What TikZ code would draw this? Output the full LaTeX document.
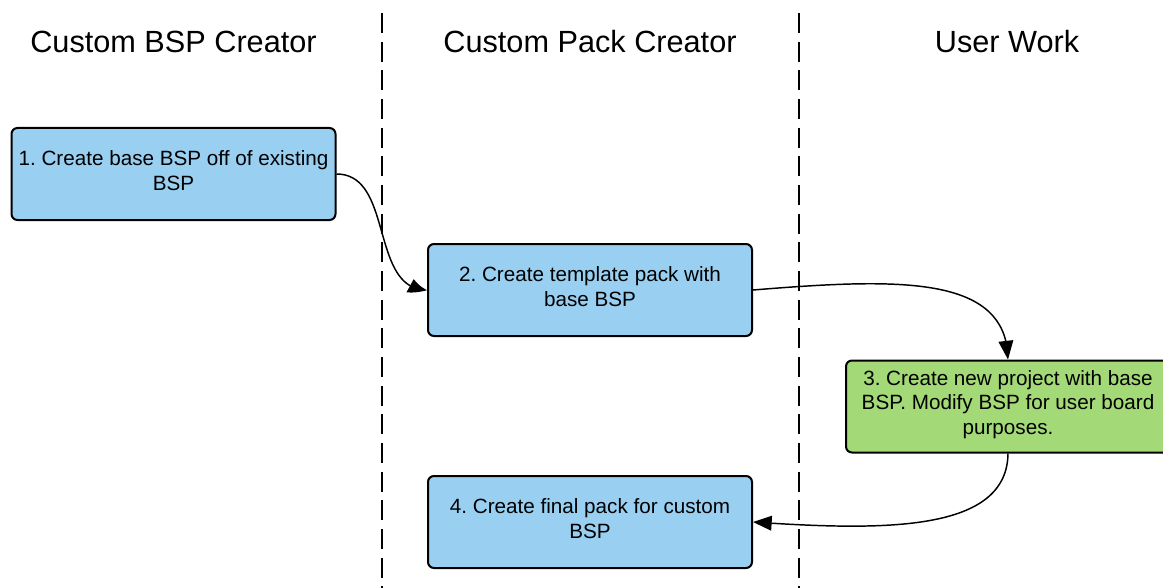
\documentclass[tikz,border=0pt]{standalone}
\usepackage{fontspec}
\setmainfont{Liberation Sans}
\usetikzlibrary{arrows.meta,calc,bending}
\definecolor{boxblue}{RGB}{153,208,242}
\definecolor{boxgreen}{RGB}{163,217,119}
\frenchspacing
\begin{document}
\begin{tikzpicture}[x=0.75pt,y=-0.75pt,
  stepbox/.style={draw=black, line width=1.5pt, rounded corners=4.5pt,
    minimum width=243pt, minimum height=69pt, inner sep=0pt},
  bluebox/.style={stepbox, fill=boxblue},
  greenbox/.style={stepbox, fill=boxgreen},
  steptext/.style={align=center, inner sep=0pt, font=\fontsize{15.5}{18.5}\selectfont},
  header/.style={font=\fontsize{23}{27}\selectfont, anchor=base, inner sep=0pt},
  lane/.style={draw=black, line width=1.5pt, dash pattern=on 15pt off 6.5pt},
  conn/.style={draw=black, line width=1.1pt, -{Triangle[length=14pt,width=11pt]}},
  bentconn/.style={draw=black, line width=1.1pt, -{Triangle[length=14pt,width=11pt,bend]}}]
\clip (0,0) rectangle (1163,588);
\fill[white] (0,0) rectangle (1163,588);
% lanes
\coordinate (d1t) at (381.5,13);
\coordinate (d1b) at (381.5,588);
\coordinate (d2t) at (799,13);
\coordinate (d2b) at (799,588);
\draw[lane] (d1t) -- (d1b);
\draw[lane] (d2t) -- (d2b);
% headers
\node[header] (h1) at (173.5,53) {Custom BSP Creator};
\node[header] (h2) at (590,53) {Custom Pack Creator};
\node[header] (h3) at (1007,53) {User Work};
% boxes
\node[bluebox] (b1) at (173.5,174) {};
\node[bluebox] (b2) at (590,290) {};
\node[greenbox] (b3) at (1008,406.5) {};
\node[bluebox] (b4) at (590,522) {};
% texts
\node[steptext] (t1) at ($(b1.center)+(0,-3.5)$) {1. Create base BSP off of existing\\BSP};
\node[steptext] (t2) at ($(b2.center)+(0,-3.5)$) {2. Create template pack with\\base BSP};
\node[steptext] (t3) at ($(b3.center)+(0,-2)$) {3. Create new project with base\\BSP. Modify BSP for user board\\purposes.};
\node[steptext] (t4) at ($(b4.center)+(0,-3.5)$) {4. Create final pack for custom\\BSP};
% connectors
\draw[bentconn] (b1.east) to[out=0,in=180] (b2.west);
\draw[conn] (b2.east) .. controls (900,278) and (1007,275) .. (b3.north);
\draw[conn] (b3.south) .. controls (1007,532) and (885,531) .. (b4.east);
\end{tikzpicture}
\end{document}
